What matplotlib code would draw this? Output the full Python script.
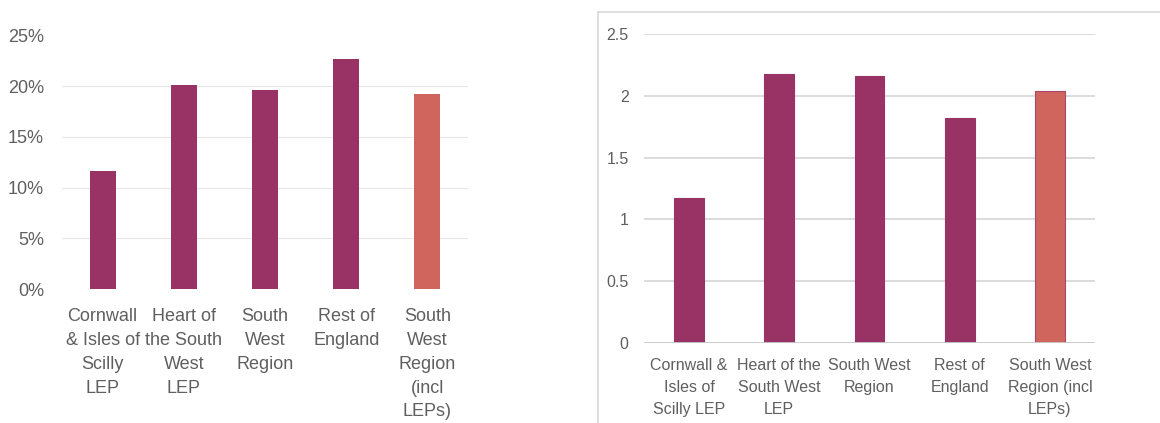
"""two bar panels comparing the Cornwall & Isles of Scilly LEP with other areas."""
import matplotlib

matplotlib.use("Agg")
import matplotlib.pyplot as plt
from matplotlib.lines import Line2D
from matplotlib.ticker import FuncFormatter

plt.rcParams["font.family"] = ["Liberation Sans", "DejaVu Sans"]

# left panel: share (%) with narrow wrapped labels
left_labels = [
    "Cornwall\n& Isles of\nScilly\nLEP",
    "Heart of\nthe South\nWest\nLEP",
    "South\nWest\nRegion",
    "Rest of\nEngland",
    "South\nWest\nRegion\n(incl\nLEPs)",
]
share_pct = [11.6, 20.1, 19.6, 22.7, 19.2]

# right panel: ratio with wider labels
right_labels = [
    "Cornwall &\nIsles of\nScilly LEP",
    "Heart of the\nSouth West\nLEP",
    "South West\nRegion",
    "Rest of\nEngland",
    "South West\nRegion (incl\nLEPs)",
]
ratio = [1.17, 2.18, 2.16, 1.82, 2.04]

PURPLE = "#993366"
CORAL = "#CF655D"
TEXT = "#5f5f5f"
bar_colors = [PURPLE] * 4 + [CORAL]

fig = plt.figure(figsize=(11.6, 4.23), dpi=100)

# ---- left panel
ax1 = fig.add_axes([62 / 1160, 134 / 423, 406 / 1160, 253.5 / 423])
x = range(len(share_pct))
ax1.bar(x, share_pct, width=0.32, color=bar_colors, zorder=2)
ax1.set_xlim(-0.5, 4.5)
ax1.set_ylim(0, 25)
ax1.set_yticks([0, 5, 10, 15, 20, 25])
ax1.yaxis.set_major_formatter(FuncFormatter(lambda v, _: f"{v:.0f}%"))
for v in [5, 10, 15, 20]:
    ax1.axhline(v, color="#e6e6e6", lw=0.8, zorder=1)
ax1.set_xticks(list(x))
ax1.set_xticklabels(left_labels, fontsize=13, color=TEXT, linespacing=1.52)
ax1.tick_params(axis="x", length=0, pad=14)
ax1.tick_params(axis="y", length=0, pad=13, labelsize=13, labelcolor=TEXT)
for s in ax1.spines.values():
    s.set_visible(False)

# ---- right panel
ax2 = fig.add_axes([644 / 1160, 80 / 423, 451 / 1160, 309 / 423])
ax2.bar(x, ratio, width=0.33, color=bar_colors, edgecolor=[PURPLE] * 4 + ["#a8466e"],
        linewidth=0.8, zorder=2)
ax2.set_xlim(-0.5, 4.5)
ax2.set_ylim(0, 2.5)
ax2.set_yticks([0, 0.5, 1, 1.5, 2, 2.5])
ax2.set_yticklabels(["0", "0.5", "1", "1.5", "2", "2.5"])
for v in [0.5, 1, 1.5, 2, 2.5]:
    ax2.axhline(v, color="#d9d9d9", lw=1.3, zorder=1)
ax2.axhline(0, color="#c8c8c8", lw=1.3, zorder=3)
ax2.set_xticks(list(x))
ax2.set_xticklabels(right_labels, fontsize=11.5, color=TEXT, linespacing=1.56)
ax2.tick_params(axis="x", length=0, pad=11)
ax2.tick_params(axis="y", length=0, pad=11, labelsize=11.5, labelcolor=TEXT)
for s in ax2.spines.values():
    s.set_visible(False)

# frame around the right panel (left and top edges show)
fig.add_artist(Line2D([598 / 1160, 598 / 1160], [0, 1 - 12 / 423],
                      transform=fig.transFigure, color="#d9d9d9", lw=1.2))
fig.add_artist(Line2D([598 / 1160, 1], [1 - 12 / 423, 1 - 12 / 423],
                      transform=fig.transFigure, color="#d9d9d9", lw=1.2))

fig.savefig("out.png", dpi=100, facecolor="white")
